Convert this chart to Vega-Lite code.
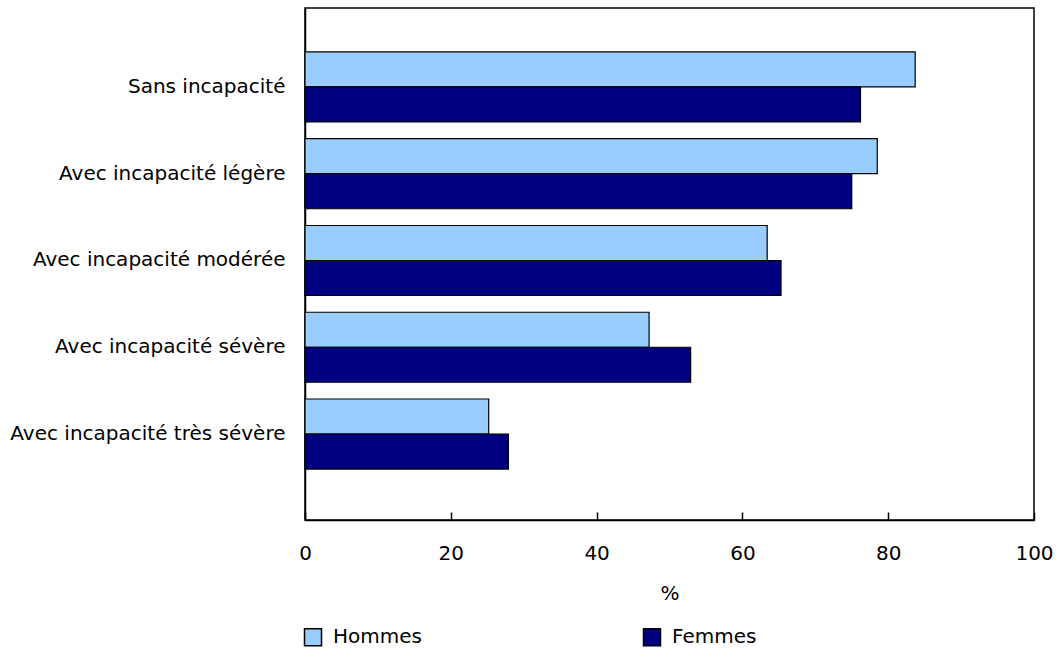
{
  "$schema": "https://vega.github.io/schema/vega-lite/v6.json",
  "width": 729,
  "height": 512,
  "autosize": "none",
  "padding": {"left": 305, "top": 8, "right": 22, "bottom": 132},
  "config": {
    "font": "DejaVu Sans",
    "view": {"stroke": "black", "strokeWidth": 1.5},
    "axis": {"labelFont": "DejaVu Sans", "labelFontSize": 20, "labelColor": "black", "titleFont": "DejaVu Sans", "titleFontSize": 20, "titleColor": "black", "titleFontWeight": "normal"},
    "legend": {"labelFont": "DejaVu Sans", "labelFontSize": 20, "labelColor": "black"}
  },
  "data": {
    "values": [
      {"cat": "Sans incapacité", "sexe": "Hommes", "v": 83.7},
      {"cat": "Sans incapacité", "sexe": "Femmes", "v": 76.2},
      {"cat": "Avec incapacité légère", "sexe": "Hommes", "v": 78.5},
      {"cat": "Avec incapacité légère", "sexe": "Femmes", "v": 75.0},
      {"cat": "Avec incapacité modérée", "sexe": "Hommes", "v": 63.4},
      {"cat": "Avec incapacité modérée", "sexe": "Femmes", "v": 65.3},
      {"cat": "Avec incapacité sévère", "sexe": "Hommes", "v": 47.2},
      {"cat": "Avec incapacité sévère", "sexe": "Femmes", "v": 52.9},
      {"cat": "Avec incapacité très sévère", "sexe": "Hommes", "v": 25.2},
      {"cat": "Avec incapacité très sévère", "sexe": "Femmes", "v": 27.9}
    ]
  },
  "mark": {"type": "bar", "stroke": "black", "strokeWidth": 1.2},
  "encoding": {
    "y": {
      "field": "cat", "type": "nominal", "sort": null, "title": null,
      "scale": {"paddingInner": 0.193, "paddingOuter": 0.547, "align": 0.463},
      "axis": {"ticks": false, "labelPadding": 20, "domainColor": "black", "domainWidth": 1.5, "labelLimit": 320}
    },
    "yOffset": {"field": "sexe", "type": "nominal", "sort": ["Hommes", "Femmes"], "scale": {"paddingInner": 0, "paddingOuter": 0}},
    "x": {
      "field": "v", "type": "quantitative", "title": "%",
      "scale": {"domain": [0, 100], "nice": false},
      "axis": {"values": [0, 20, 40, 60, 80, 100], "grid": false, "labelFlush": false, "tickSize": -8, "tickColor": "black", "tickWidth": 1.5, "domainColor": "black", "domainWidth": 1.5, "labelPadding": 31, "titlePadding": 20}
    },
    "color": {
      "field": "sexe", "type": "nominal", "sort": ["Hommes", "Femmes"], "title": null,
      "scale": {"domain": ["Hommes", "Femmes"], "range": ["#99CCFF", "#000080"]},
      "legend": {"orient": "none", "legendX": -2, "legendY": 619, "direction": "horizontal", "columns": 2, "columnPadding": 218, "symbolType": "square", "symbolSize": 289, "symbolStrokeColor": "black", "symbolStrokeWidth": 1.5, "labelOffset": 10}
    }
  }
}
